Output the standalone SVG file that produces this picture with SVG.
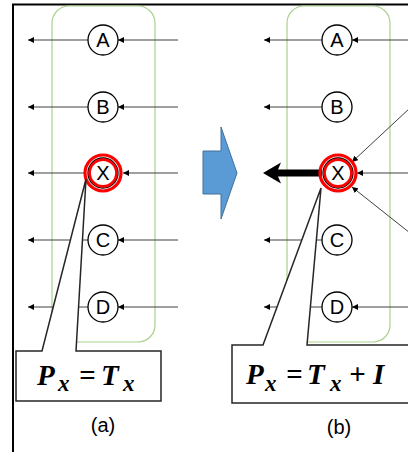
<svg xmlns="http://www.w3.org/2000/svg" width="408" height="452" viewBox="0 0 408 452">
<style>
.frame{fill:none;stroke:#000;stroke-width:2}
.group{fill:none;stroke:#a9d18e;stroke-width:1.2}
.node{fill:#fff;stroke:#000;stroke-width:1.3}
.lbl{font-family:"Liberation Sans","DejaVu Sans",sans-serif;font-size:20px;fill:#000;text-anchor:middle}
.ring{fill:none;stroke:#ff0000}
.edge{fill:none;stroke:#404040;stroke-width:1}
.callout{fill:#fff;stroke:#262626;stroke-width:1.5}
.eq{font-family:"Liberation Serif","DejaVu Serif",serif;font-weight:bold;font-style:italic;font-size:29px;fill:#000}
.sub{font-size:23px}
.cap{font-family:"Liberation Sans","DejaVu Sans",sans-serif;font-size:20px;fill:#000;text-anchor:middle}
</style>
<defs>
<marker id="ah" viewBox="0 0 6 6" refX="6" refY="3" markerWidth="6" markerHeight="6" markerUnits="userSpaceOnUse" orient="auto">
<path d="M0,0 L6,3 L0,6 z" fill="#000"/>
</marker>
</defs>
<rect width="408" height="452" fill="#fff"/>
<path class="frame" d="M13,452 V4.5 H408"/>

<g id="group-a"><rect class="group" x="52" y="6" width="103" height="336" rx="17"/></g>
<g id="group-b"><rect class="group" x="287" y="6" width="103" height="336" rx="17"/></g>

<g id="connectors">
<line class="edge" x1="178" y1="40" x2="118" y2="40" marker-end="url(#ah)"/>
<line class="edge" x1="88" y1="40" x2="28" y2="40" marker-end="url(#ah)"/>
<line class="edge" x1="178" y1="107" x2="118" y2="107" marker-end="url(#ah)"/>
<line class="edge" x1="88" y1="107" x2="28" y2="107" marker-end="url(#ah)"/>
<line class="edge" x1="178" y1="173" x2="123" y2="173" marker-end="url(#ah)"/>
<line class="edge" x1="84" y1="173" x2="28" y2="173" marker-end="url(#ah)"/>
<line class="edge" x1="178" y1="240" x2="118" y2="240" marker-end="url(#ah)"/>
<line class="edge" x1="88" y1="240" x2="28" y2="240" marker-end="url(#ah)"/>
<line class="edge" x1="178" y1="307" x2="118" y2="307" marker-end="url(#ah)"/>
<line class="edge" x1="88" y1="307" x2="28" y2="307" marker-end="url(#ah)"/>
<line class="edge" x1="410" y1="40" x2="352" y2="40" marker-end="url(#ah)"/>
<line class="edge" x1="322" y1="40" x2="264" y2="40" marker-end="url(#ah)"/>
<line class="edge" x1="322" y1="107" x2="264" y2="107" marker-end="url(#ah)"/>
<line class="edge" x1="410" y1="108" x2="352" y2="162" marker-end="url(#ah)"/>
<line class="edge" x1="410" y1="173" x2="357" y2="173" marker-end="url(#ah)"/>
<line class="edge" x1="410" y1="233" x2="352" y2="187" marker-end="url(#ah)"/>
<line class="edge" x1="322" y1="240" x2="264" y2="240" marker-end="url(#ah)"/>
<line class="edge" x1="410" y1="307" x2="352" y2="307" marker-end="url(#ah)"/>
<line class="edge" x1="322" y1="307" x2="264" y2="307" marker-end="url(#ah)"/>
<polygon points="263,173 281,162.5 278,169.5 322,169.5 322,176.5 278,176.5 281,183.5" fill="#000"/>
</g>

<g id="transition">
<polygon points="203,151 221,151 221,127 237,173 221,219 221,194 203,194" fill="#5b9bd5" stroke="#41719c" stroke-width="1"/>
</g>

<g id="a-A"><circle class="node" cx="103" cy="40" r="15"/><text class="lbl" x="103" y="47">A</text></g>
<g id="a-B"><circle class="node" cx="103" cy="107" r="15"/><text class="lbl" x="103" y="114">B</text></g>
<g id="a-X"><circle class="node" cx="103" cy="173" r="15"/><circle class="ring" cx="103" cy="173" r="18" stroke-width="3.2"/><circle class="ring" cx="103" cy="173" r="13.4" stroke-width="2.6"/><text class="lbl" x="103" y="180">X</text></g>
<g id="a-C"><circle class="node" cx="103" cy="240" r="15"/><text class="lbl" x="103" y="247">C</text></g>
<g id="a-D"><circle class="node" cx="103" cy="307" r="15"/><text class="lbl" x="103" y="314">D</text></g>

<g id="b-A"><circle class="node" cx="337" cy="40" r="15"/><text class="lbl" x="337" y="47">A</text></g>
<g id="b-B"><circle class="node" cx="337" cy="107" r="15"/><text class="lbl" x="337" y="114">B</text></g>
<g id="b-X"><circle class="node" cx="338" cy="173" r="15"/><circle class="ring" cx="338" cy="173" r="18" stroke-width="3.2"/><circle class="ring" cx="338" cy="173" r="13.4" stroke-width="2.6"/><text class="lbl" x="338" y="180">X</text></g>
<g id="b-C"><circle class="node" cx="337" cy="240" r="15"/><text class="lbl" x="337" y="247">C</text></g>
<g id="b-D"><circle class="node" cx="337" cy="307" r="15"/><text class="lbl" x="337" y="314">D</text></g>

<g id="callout-a">
<path class="callout" d="M16,351 H42 L86,179 L76,351 H161 V401 H16 Z"/>
<text class="eq" y="385"><tspan x="37">P</tspan><tspan class="sub" x="58" y="391">x</tspan><tspan x="79" y="385">=</tspan><tspan x="101">T</tspan><tspan class="sub" x="123" y="391">x</tspan></text>
</g>
<g id="callout-b">
<path class="callout" d="M232,345 H263 L321,188 L307,345 H410 V403 H232 Z"/>
<text class="eq" y="384"><tspan x="246">P</tspan><tspan class="sub" x="265" y="391">x</tspan><tspan x="286" y="384">=</tspan><tspan x="307">T</tspan><tspan class="sub" x="330" y="391">x</tspan><tspan x="349" y="384">+</tspan><tspan x="373">I</tspan></text>
</g>

<text class="cap" x="103" y="432">(a)</text>
<text class="cap" x="339" y="434">(b)</text>
</svg>
